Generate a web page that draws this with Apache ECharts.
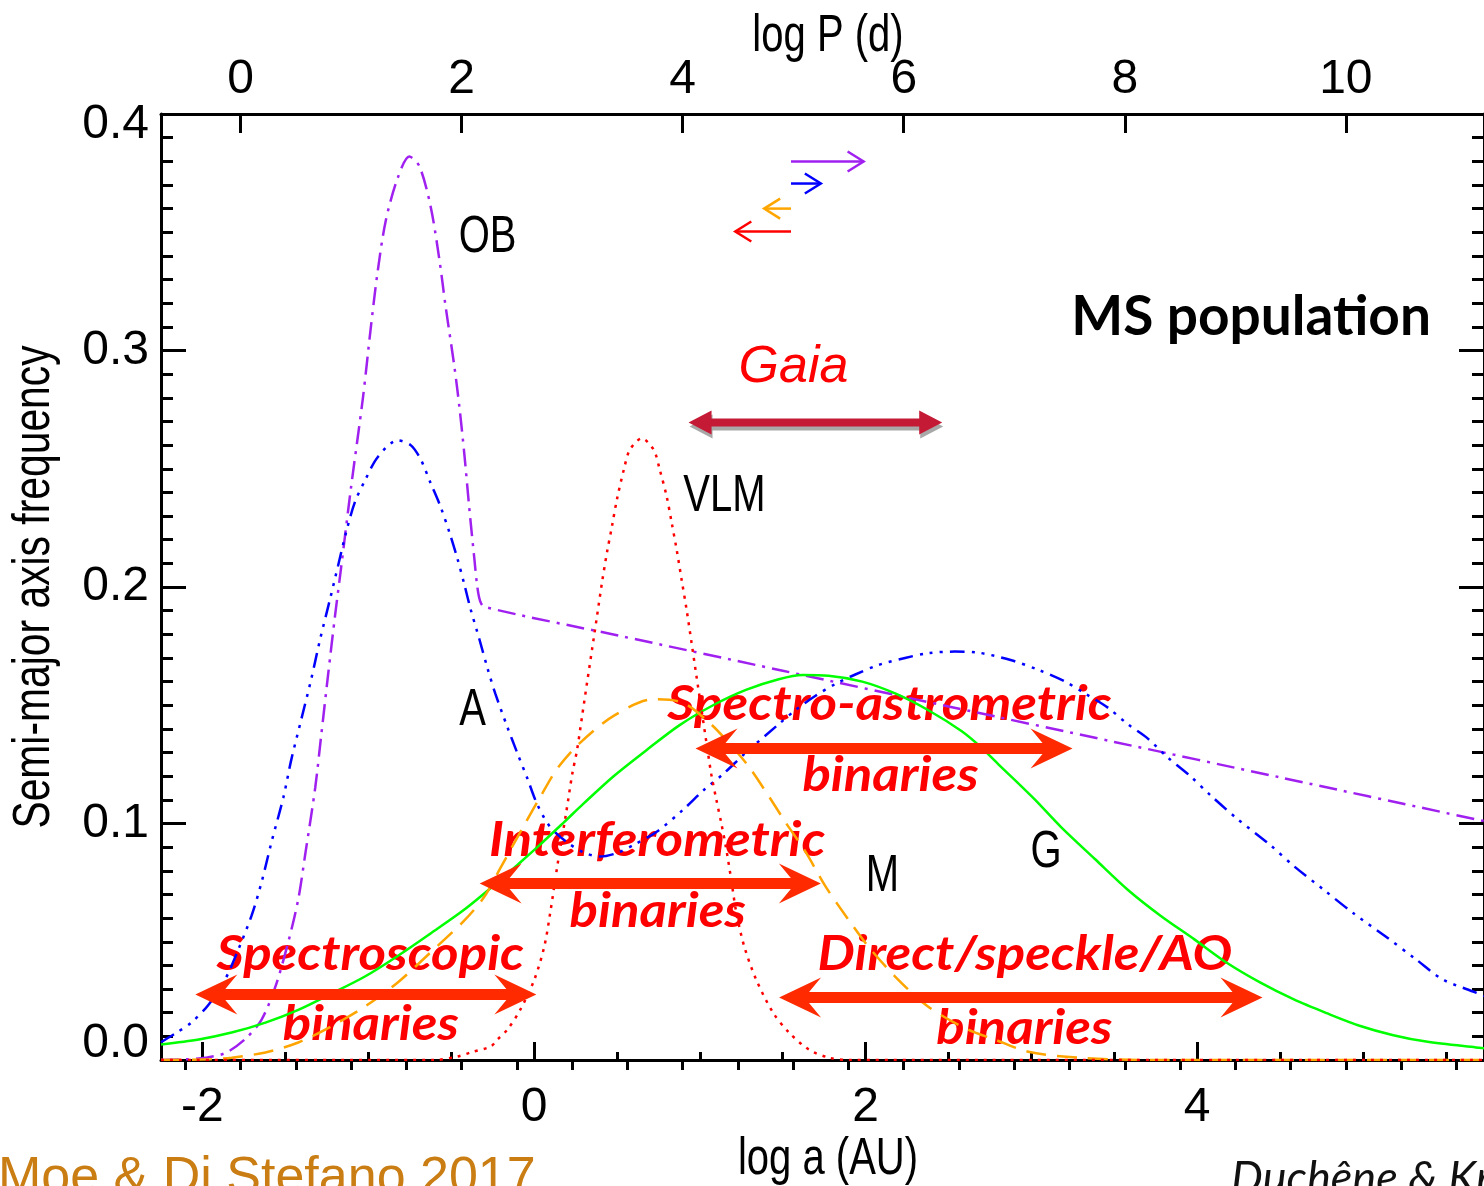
<!DOCTYPE html>
<html>
<head>
<meta charset="utf-8">
<script src="https://cdn.jsdelivr.net/npm/echarts@6/dist/echarts.min.js"></script>
<style>
  html, body { margin: 0; padding: 0; background: #fff; }
  #chart { width: 1484px; height: 1186px; }
</style>
</head>
<body>
<div id="chart"></div>
<script>
// Semi-major axis distributions of main-sequence binaries (log a in AU),
// with the period scale log P (d) along the top.
const X_MIN = -2.25;
const X_MAX = 5.73;
const LOGP_OFFSET = 2.655;           // log P(d) = 1.5 * log a(AU) + offset

const aTicks = [-2, 0, 2, 4];
const aMinorTicks = [-2, -1.5, -1, -0.5, 0, 0.5, 1, 1.5, 2, 2.5, 3, 3.5, 4, 4.5, 5, 5.5];
const pTicks = [0, 2, 4, 6, 8, 10];
const pMinorTicks = [-0.5, 0, 0.5, 1, 1.5, 2, 2.5, 3, 3.5, 4, 4.5, 5, 5.5, 6, 6.5, 7, 7.5, 8, 8.5, 9, 9.5, 10, 10.5, 11];

// OB primaries
const obCurve = [
  [-2.25, 0.0], [-2.10, 0.0003], [-1.98, 0.001], [-1.86, 0.003], [-1.74, 0.009], [-1.644, 0.017],
  [-1.56, 0.031], [-1.482, 0.050], [-1.422, 0.068], [-1.38, 0.087], [-1.32, 0.115], [-1.284, 0.137],
  [-1.242, 0.163], [-1.20, 0.188], [-1.164, 0.208], [-1.104, 0.242], [-1.032, 0.280], [-0.984, 0.310],
  [-0.942, 0.334], [-0.894, 0.355], [-0.822, 0.373], [-0.752, 0.382], [-0.692, 0.378], [-0.624, 0.361],
  [-0.570, 0.338], [-0.534, 0.319], [-0.480, 0.293], [-0.450, 0.276], [-0.420, 0.256], [-0.390, 0.233],
  [-0.360, 0.212], [-0.342, 0.200], [-0.325, 0.194], [-0.300, 0.1916], [0.5, 0.1796], [1.5, 0.1646],
  [2.5, 0.1495], [3.5, 0.1345], [4.5, 0.1195], [5.73, 0.1010]
];
// A primaries
const aCurve = [
  [-2.25, 0.0075], [-2.16, 0.0114], [-2.064, 0.0160], [-1.962, 0.0235], [-1.86, 0.0345], [-1.782, 0.047],
  [-1.704, 0.061], [-1.644, 0.075], [-1.584, 0.092], [-1.512, 0.111], [-1.464, 0.127], [-1.404, 0.144],
  [-1.344, 0.161], [-1.29, 0.178], [-1.23, 0.195], [-1.182, 0.209], [-1.134, 0.223], [-1.08, 0.236],
  [-1.02, 0.245], [-0.942, 0.255], [-0.822, 0.262], [-0.744, 0.260], [-0.684, 0.254], [-0.624, 0.244],
  [-0.564, 0.234], [-0.51, 0.223], [-0.462, 0.212], [-0.42, 0.201], [-0.384, 0.191], [-0.33, 0.178],
  [-0.282, 0.166], [-0.234, 0.155], [-0.162, 0.141], [-0.102, 0.130], [-0.04, 0.119], [0.02, 0.108],
  [0.098, 0.0985], [0.2, 0.092], [0.302, 0.0877], [0.398, 0.086], [0.5, 0.0875], [0.602, 0.091],
  [0.74, 0.0965], [0.902, 0.106], [1.022, 0.1140], [1.142, 0.121], [1.278, 0.130], [1.476, 0.142],
  [1.578, 0.148], [1.698, 0.154], [1.818, 0.159], [1.938, 0.163], [2.076, 0.167], [2.238, 0.170],
  [2.376, 0.172], [2.538, 0.1727], [2.675, 0.1723], [2.88, 0.169], [3.041, 0.165], [3.203, 0.160],
  [3.323, 0.155], [3.461, 0.149], [3.581, 0.142], [3.701, 0.136], [3.821, 0.128], [3.959, 0.120],
  [4.079, 0.112], [4.241, 0.102], [4.439, 0.091], [4.583, 0.082], [4.763, 0.072], [4.943, 0.062],
  [5.141, 0.052], [5.321, 0.0425], [5.483, 0.034], [5.681, 0.0285], [5.73, 0.027]
];
// G primaries
const gCurve = [
  [-2.25, 0.0066], [-2.022, 0.0087], [-1.824, 0.0116], [-1.62, 0.0158], [-1.422, 0.0212], [-1.224, 0.0280],
  [-1.02, 0.0353], [-0.822, 0.0440], [-0.624, 0.0535], [-0.42, 0.0636], [-0.222, 0.0750], [-0.1, 0.0825],
  [0.02, 0.0900], [0.18, 0.1005], [0.3, 0.1085], [0.48, 0.1200], [0.678, 0.131], [0.876, 0.1415],
  [1.08, 0.150], [1.278, 0.1565], [1.476, 0.161], [1.62, 0.1628], [1.776, 0.1625], [1.98, 0.160],
  [2.178, 0.155], [2.376, 0.148], [2.58, 0.139], [2.70, 0.132], [2.801, 0.125], [2.921, 0.117],
  [3.023, 0.110], [3.179, 0.0985], [3.383, 0.085], [3.581, 0.072], [3.779, 0.061], [3.983, 0.051],
  [4.181, 0.041], [4.379, 0.0328], [4.583, 0.0256], [4.781, 0.0198], [4.979, 0.0145], [5.183, 0.0105],
  [5.381, 0.0078], [5.681, 0.0053], [5.73, 0.005]
];
// M primaries
const mCurve = [
  [-2.25, 0.0], [-1.95, 0.0003], [-1.824, 0.001], [-1.62, 0.0032], [-1.422, 0.0074], [-1.224, 0.0142],
  [-1.02, 0.0226], [-0.822, 0.0328], [-0.624, 0.0455], [-0.42, 0.059], [-0.3, 0.069], [-0.204, 0.081],
  [-0.054, 0.100], [0.036, 0.111], [0.138, 0.123], [0.276, 0.134], [0.48, 0.1455], [0.72, 0.1525],
  [0.9, 0.151], [1.056, 0.1427], [1.176, 0.134], [1.296, 0.124], [1.416, 0.1115], [1.518, 0.1004],
  [1.638, 0.088], [1.758, 0.0734], [1.896, 0.0594], [2.016, 0.048], [2.178, 0.0353], [2.376, 0.0226],
  [2.616, 0.0129], [2.777, 0.0087], [2.981, 0.0035], [3.281, 0.001], [3.68, 0.0], [5.73, 0.0]
];
// very-low-mass primaries
const vlmCurve = [
  [-2.25, 0.0], [-0.60, 0.0], [-0.460, 0.0015], [-0.382, 0.0032], [-0.262, 0.0057], [-0.220, 0.0087],
  [-0.160, 0.0129], [-0.082, 0.0214], [0.002, 0.034], [0.062, 0.048], [0.098, 0.0624], [0.140, 0.0818],
  [0.194, 0.1046], [0.230, 0.1207], [0.260, 0.1313], [0.290, 0.1454], [0.320, 0.1596], [0.350, 0.1736],
  [0.380, 0.1877], [0.410, 0.2019], [0.440, 0.2146], [0.470, 0.2256], [0.500, 0.237], [0.542, 0.2497],
  [0.578, 0.258], [0.650, 0.2628], [0.722, 0.258], [0.758, 0.2497], [0.800, 0.2383], [0.830, 0.2273],
  [0.860, 0.2159], [0.890, 0.2032], [0.920, 0.1905], [0.950, 0.1765], [0.980, 0.1622], [1.010, 0.1482],
  [1.040, 0.1342], [1.070, 0.1205], [1.100, 0.110], [1.130, 0.100], [1.160, 0.089], [1.190, 0.076],
  [1.220, 0.0624], [1.268, 0.048], [1.340, 0.034], [1.442, 0.020], [1.538, 0.0116], [1.658, 0.0044],
  [1.778, 0.001], [1.90, 0.0], [5.73, 0.0]
];

// Detection-technique ranges: [left log a, right log a, height]
const methodRanges = [
  [-2.043, 0.014, 0.0277],   // spectroscopic
  [-0.328, 1.730, 0.0746],   // interferometric
  [0.974, 3.248, 0.1317],    // spectro-astrometric
  [1.478, 4.394, 0.0264]     // direct / speckle / AO
];
const gaiaRange = [[0.932, 2.462, 0.2696]];

// Short arrows near the top: [start log a, end log a, height, curve index]
const shiftArrows = [
  [1.550, 1.988, 0.3799, 0],
  [1.550, 1.730, 0.3706, 1],
  [1.550, 1.388, 0.3600, 3],
  [1.550, 1.214, 0.3503, 4]
];

const curveNames = ['OB', 'A', 'G', 'M', 'VLM'];
const curveColors = ['#a020f0', '#0000ff', '#00ff00', '#ffa500', '#ff0000'];

const curveLabelText = ['OB', 'A', 'VLM', 'M', 'G'];
const curveLabelPos = [[-0.280, 0.3476], [-0.370, 0.1476], [1.148, 0.2381], [2.102, 0.0774], [3.089, 0.0875]];
const methodLabelText = ['Spectroscopic', 'binaries', 'Interferometric', 'binaries',
                         'Spectro-astrometric', 'binaries', 'Direct/speckle/AO', 'binaries'];
const methodLabelPos = [[-0.988, 0.0444], [-0.985, 0.0150], [0.743, 0.0926], [0.746, 0.0626],
                        [2.144, 0.1503], [2.150, 0.1205], [2.961, 0.0446], [2.957, 0.0135]];
const gaiaLabelPos = [[1.565, 0.2930]];
const titleLabelPos = [[4.325, 0.3140]];

const SANS = '"Liberation Sans", Arial, sans-serif';
const HUMANIST = 'Lato, "Open Sans", sans-serif';
const AXIS_FONT = 48;
const TALL_FONT = 52;        // tall, condensed lettering for titles and curve names
const NARROW_SCALE = 0.77;

function renderRangeArrow(params, api) {
  const l = api.coord([api.value(0), api.value(2)]);
  const r = api.coord([api.value(1), api.value(2)]);
  const y = l[1], x0 = l[0], x1 = r[0];
  const L = 42, H = 20, N = 30, T = 5.5;
  const pts = [[x0, y], [x0 + L, y - H], [x0 + N, y - T], [x1 - N, y - T], [x1 - L, y - H],
               [x1, y], [x1 - L, y + H], [x1 - N, y + T], [x0 + N, y + T], [x0 + L, y + H]];
  return { type: 'polygon', shape: { points: pts }, style: { fill: '#ff2a00' } };
}

function renderGaiaArrow(params, api) {
  const l = api.coord([api.value(0), api.value(2)]);
  const r = api.coord([api.value(1), api.value(2)]);
  const y = l[1], x0 = l[0], x1 = r[0];
  const L = 23, H = 12, T = 4;
  const outline = (dx, dy) => [
    [x0 + dx, y + dy], [x0 + L + dx, y - H + dy], [x0 + L + dx, y - T + dy], [x1 - L + dx, y - T + dy],
    [x1 - L + dx, y - H + dy], [x1 + dx, y + dy], [x1 - L + dx, y + H + dy], [x1 - L + dx, y + T + dy],
    [x0 + L + dx, y + T + dy], [x0 + L + dx, y + H + dy]
  ];
  return {
    type: 'group',
    children: [
      { type: 'polygon', shape: { points: outline(1, 4) }, style: { fill: '#a8a8a8' } },
      { type: 'polygon', shape: { points: outline(0, 0) }, style: { fill: '#c41a36' } }
    ]
  };
}

function renderShiftArrow(params, api) {
  const a = api.coord([api.value(0), api.value(2)]);
  const b = api.coord([api.value(1), api.value(2)]);
  const dir = b[0] > a[0] ? 1 : -1;
  const color = curveColors[api.value(3)];
  return {
    type: 'group',
    children: [
      { type: 'line', shape: { x1: a[0], y1: a[1], x2: b[0], y2: b[1] },
        style: { stroke: color, lineWidth: 2.5 } },
      { type: 'polyline', shape: { points: [[b[0] - dir * 16, b[1] - 10], [b[0], b[1]], [b[0] - dir * 16, b[1] + 10]] },
        style: { stroke: color, lineWidth: 2.5, fill: null } }
    ]
  };
}

function textRenderer(texts, font, color, scaleX) {
  return function (params, api) {
    const p = api.coord([api.value(0), api.value(1)]);
    return {
      type: 'text', x: p[0], y: p[1], scaleX: scaleX || 1,
      style: { text: texts[params.dataIndex], font: font, fill: color, align: 'center', verticalAlign: 'middle' }
    };
  };
}

const curveData = [obCurve, aCurve, gCurve, mCurve, vlmCurve];
const curveDash = [[18, 7, 3, 7], [15, 7, 3, 7, 3, 7, 3, 7], 'solid', [20, 11], [3, 6]];

const lineSeries = curveData.map((d, i) => ({
  name: curveNames[i],
  type: 'line',
  data: d,
  xAxisIndex: 0,
  yAxisIndex: 0,
  showSymbol: false,
  smooth: 0.3,
  silent: true,
  z: 3,
  lineStyle: { color: curveColors[i], width: 2.5, type: curveDash[i] }
}));

const customBase = { type: 'custom', xAxisIndex: 0, yAxisIndex: 0, silent: true, clip: false };

const chart = echarts.init(document.getElementById('chart'), null, { renderer: 'canvas' });

const axisText = { fontFamily: SANS, fontSize: AXIS_FONT, color: '#000' };
const tallFont = TALL_FONT + 'px ' + SANS;

chart.setOption({
  animation: false,
  backgroundColor: '#fff',
  grid: { left: 161, top: 114, width: 1331, height: 946, containLabel: false },
  xAxis: [
    {
      type: 'value', position: 'bottom', min: X_MIN, max: X_MAX,
      axisLine: { show: true, onZero: false, lineStyle: { color: '#000', width: 3 } },
      axisTick: { show: true, inside: true, length: 18, customValues: aTicks, lineStyle: { color: '#000', width: 3 } },
      axisLabel: Object.assign({ show: true, margin: 24, customValues: aTicks,
        formatter: v => String(v) }, axisText),
      splitLine: { show: false }
    },
    {
      type: 'value', position: 'bottom', min: X_MIN, max: X_MAX,
      axisLine: { show: false },
      axisTick: { show: true, inside: true, length: 8, customValues: aMinorTicks, lineStyle: { color: '#000', width: 3 } },
      axisLabel: { show: false },
      splitLine: { show: false }
    },
    {
      type: 'value', position: 'top',
      min: LOGP_OFFSET + 1.5 * X_MIN, max: LOGP_OFFSET + 1.5 * X_MAX,
      axisLine: { show: true, onZero: false, lineStyle: { color: '#000', width: 3 } },
      axisTick: { show: true, inside: true, length: 19, customValues: pTicks, lineStyle: { color: '#000', width: 3 } },
      axisLabel: Object.assign({ show: true, margin: 10, customValues: pTicks,
        formatter: v => String(v) }, axisText),
      splitLine: { show: false }
    },
    {
      type: 'value', position: 'top',
      min: LOGP_OFFSET + 1.5 * X_MIN, max: LOGP_OFFSET + 1.5 * X_MAX,
      axisLine: { show: false },
      axisTick: { show: true, inside: true, length: 10, customValues: pMinorTicks, lineStyle: { color: '#000', width: 3 } },
      axisLabel: { show: false },
      splitLine: { show: false }
    }
  ],
  yAxis: [
    {
      type: 'value', position: 'left', min: 0, max: 0.4, interval: 0.1,
      axisLine: { show: true, onZero: false, lineStyle: { color: '#000', width: 3 } },
      axisTick: { show: true, inside: true, length: 25, lineStyle: { color: '#000', width: 3 } },
      minorTick: { show: true, splitNumber: 10, length: 12, lineStyle: { color: '#000', width: 3 } },
      axisLabel: Object.assign({
        show: true, margin: 12, showMinLabel: true, showMaxLabel: true,
        formatter: v => (v < 1e-9 ? '{lo|0.0}' : (v > 0.4 - 1e-9 ? '{hi|0.4}' : v.toFixed(1))),
        rich: {
          lo: { fontFamily: SANS, fontSize: AXIS_FONT, color: '#000', padding: [0, 0, 32, 0] },
          hi: { fontFamily: SANS, fontSize: AXIS_FONT, color: '#000', padding: [22, 0, 0, 0] }
        }
      }, axisText),
      splitLine: { show: false },
      minorSplitLine: { show: false }
    },
    {
      type: 'value', position: 'right', min: 0, max: 0.4, interval: 0.1,
      axisLine: { show: true, onZero: false, lineStyle: { color: '#000', width: 3 } },
      axisTick: { show: true, inside: true, length: 25, lineStyle: { color: '#000', width: 3 } },
      minorTick: { show: true, splitNumber: 10, length: 12, lineStyle: { color: '#000', width: 3 } },
      axisLabel: { show: false },
      splitLine: { show: false }
    }
  ],
  series: [
    Object.assign({}, customBase, {
      name: 'method labels', z: 1, data: methodLabelPos,
      renderItem: textRenderer(methodLabelText, 'italic bold 48px ' + HUMANIST, '#ff0000', 1.1)
    }),
    Object.assign({}, customBase, {
      name: 'curve labels', z: 1, data: curveLabelPos,
      renderItem: textRenderer(curveLabelText, tallFont, '#000', NARROW_SCALE)
    }),
    Object.assign({}, customBase, {
      name: 'Gaia label', z: 1, data: gaiaLabelPos,
      renderItem: textRenderer(['Gaia'], 'italic 52px ' + SANS, '#ff0000')
    }),
    Object.assign({}, customBase, {
      name: 'population label', z: 1, data: titleLabelPos,
      renderItem: textRenderer(['MS population'], 'bold 55px ' + HUMANIST, '#000')
    }),
    ...lineSeries,
    Object.assign({}, customBase, { name: 'method ranges', z: 5, data: methodRanges, renderItem: renderRangeArrow }),
    Object.assign({}, customBase, { name: 'Gaia range', z: 5, data: gaiaRange, renderItem: renderGaiaArrow }),
    Object.assign({}, customBase, { name: 'shift arrows', z: 5, data: shiftArrows, renderItem: renderShiftArrow })
  ],
  graphic: [
    // axis titles
    { type: 'text', x: 828, y: 37, scaleX: NARROW_SCALE, silent: true,
      style: { text: 'log P (d)', font: tallFont, fill: '#000', align: 'center', verticalAlign: 'middle' } },
    { type: 'text', x: 828, y: 1160, scaleX: NARROW_SCALE, silent: true,
      style: { text: 'log a (AU)', font: tallFont, fill: '#000', align: 'center', verticalAlign: 'middle' } },
    { type: 'text', x: 35, y: 587, rotation: Math.PI / 2, scaleX: 0.785, silent: true,
      style: { text: 'Semi-major axis frequency', font: tallFont, fill: '#000', align: 'center', verticalAlign: 'middle' } },
    // credits
    { type: 'text', x: -2, y: 1179, silent: true,
      style: { text: 'Moe & Di Stefano 2017', font: '52px ' + SANS, fill: '#c97d12', verticalAlign: 'middle' } },
    { type: 'text', x: 1231, y: 1178, silent: true,
      style: { text: 'Duchêne & Kraus 2013', font: 'italic 45px ' + HUMANIST, fill: '#111', verticalAlign: 'middle' } }
  ]
});
</script>
</body>
</html>
